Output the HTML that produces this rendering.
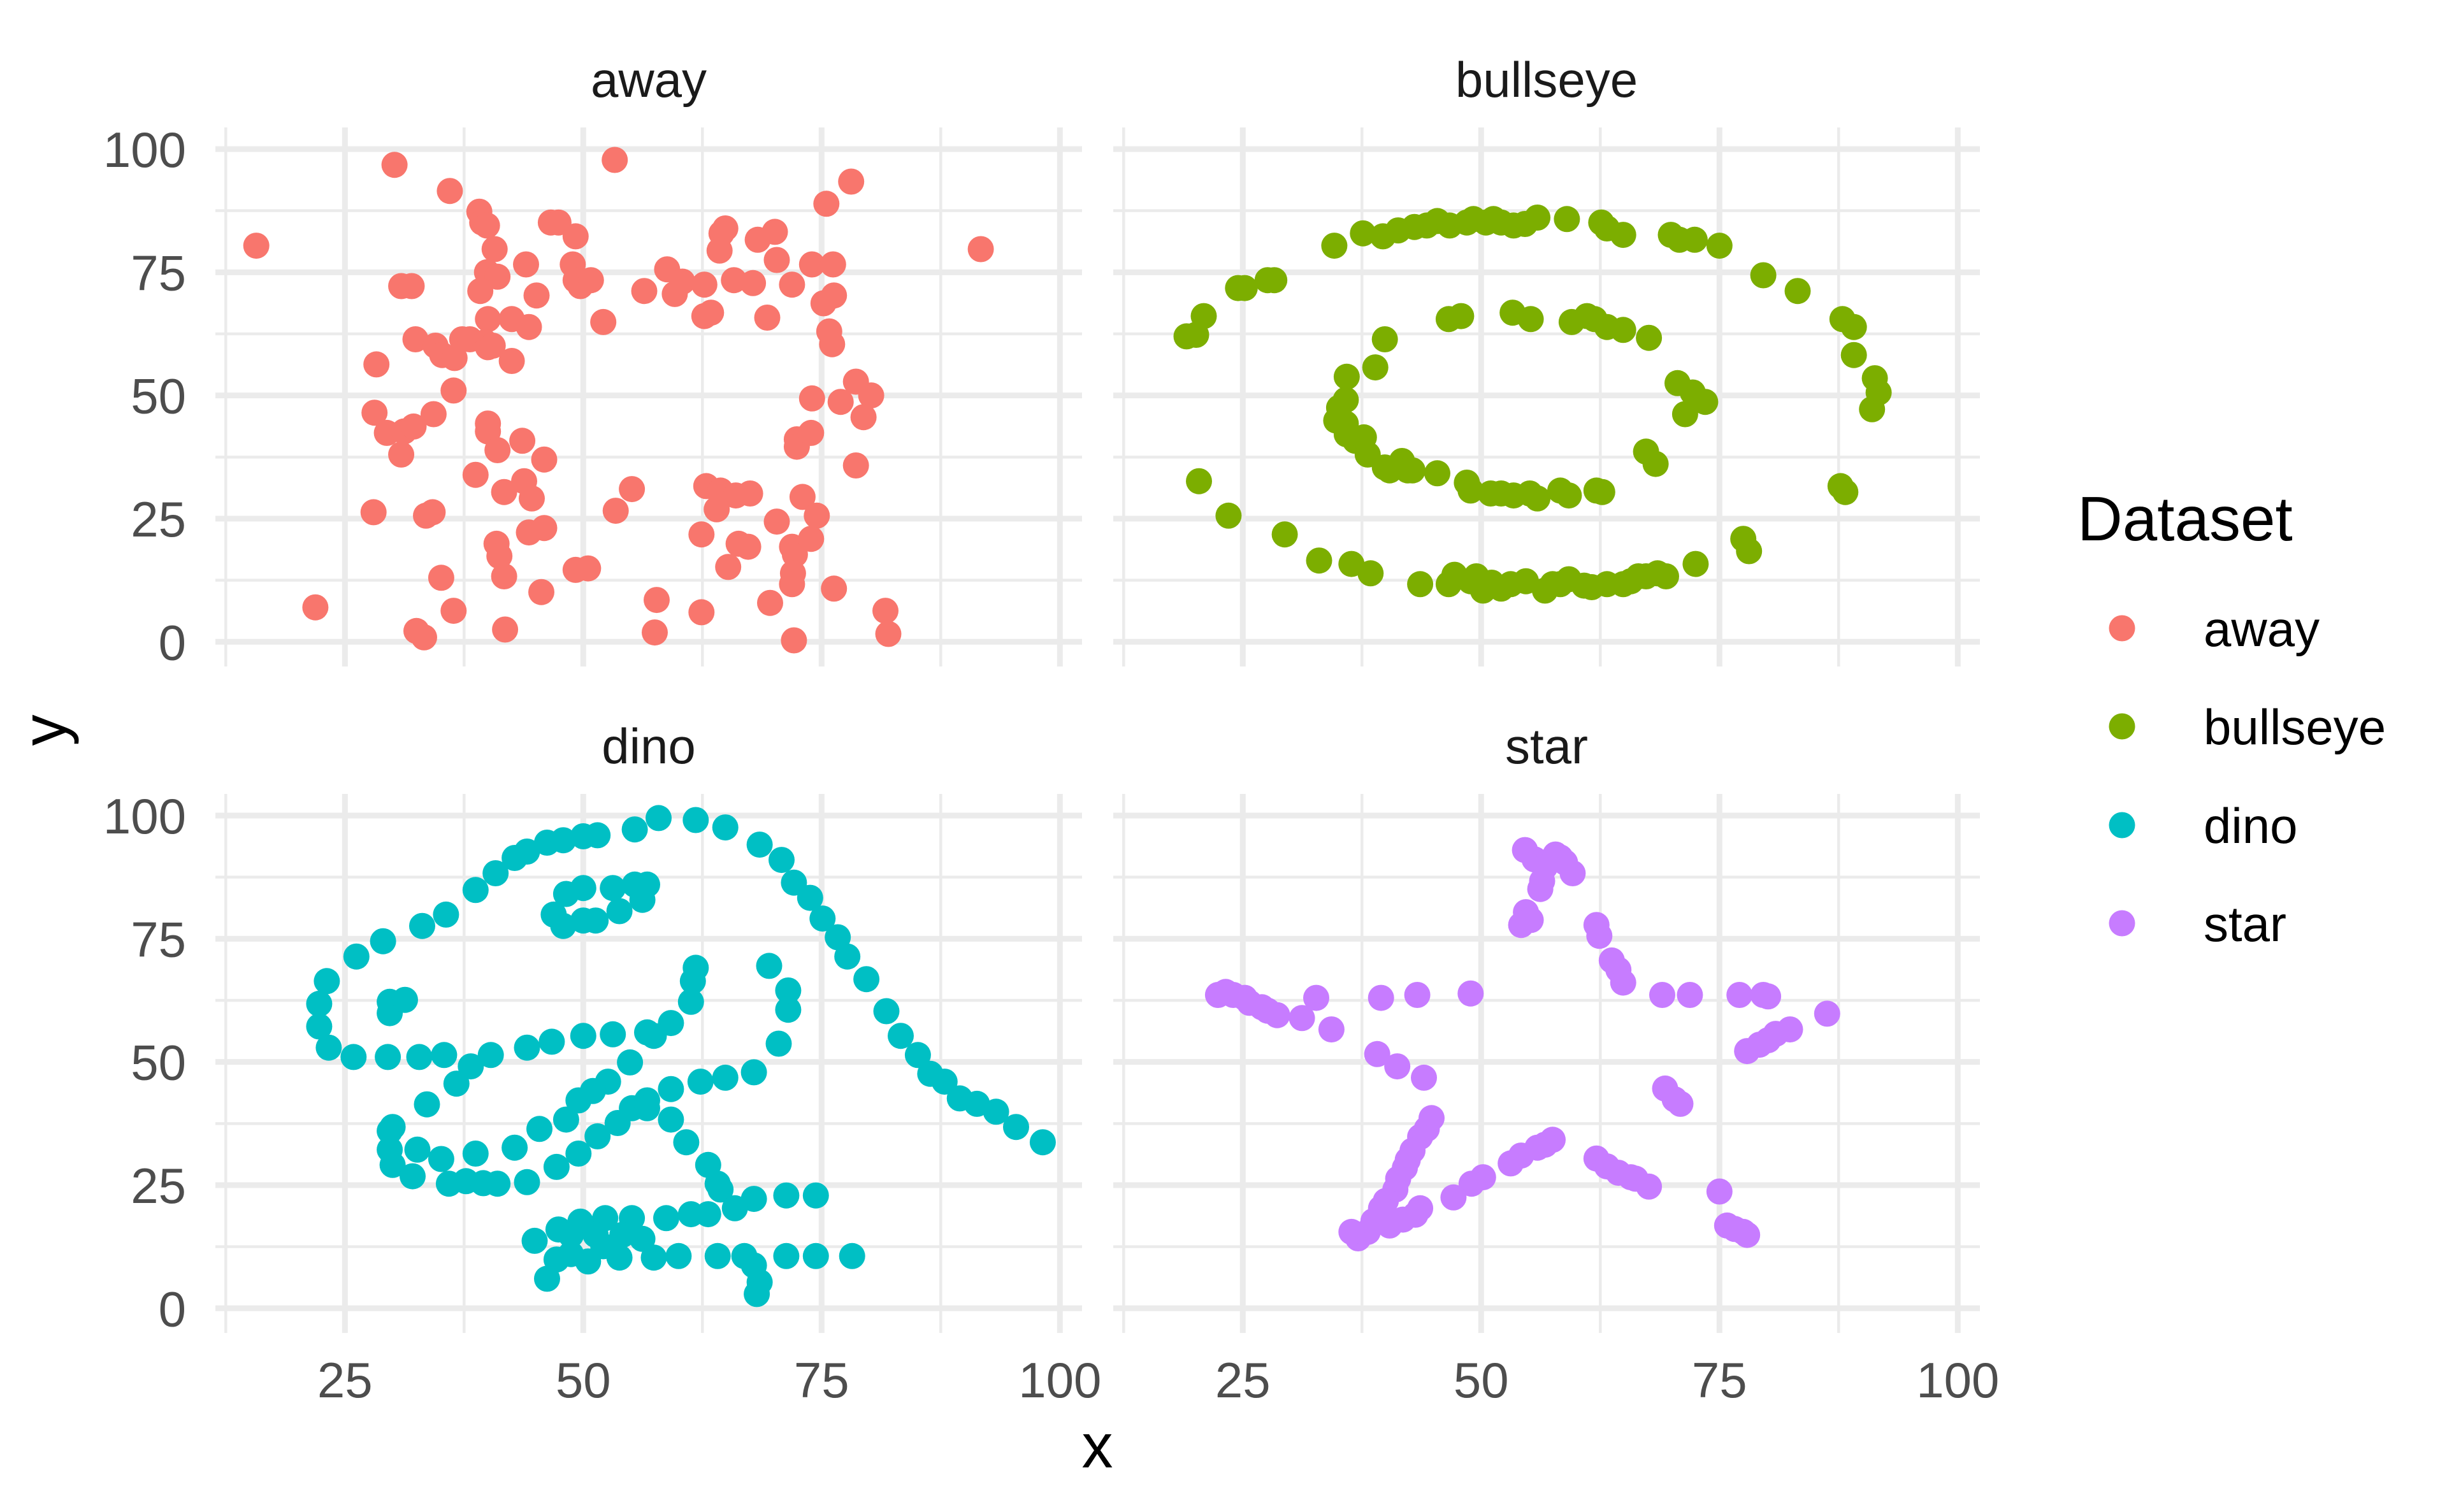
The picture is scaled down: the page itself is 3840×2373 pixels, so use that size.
<!DOCTYPE html>
<html><head><meta charset="utf-8"><style>
html,body{margin:0;padding:0;background:#fff}
svg{display:block}
text{font-family:"Liberation Sans",Arial,sans-serif}
</style></head><body>
<svg id="chart" width="3840" height="2373" viewBox="0 0 3840 2373" xmlns="http://www.w3.org/2000/svg">
<rect width="3840" height="2373" fill="#fff"/>
<g id="grid"></g>
<g id="points"></g>
<g id="labels"></g>
<text x="1722" y="2303" font-size="98" text-anchor="middle" fill="#000">x</text>
<text transform="translate(103,1146) rotate(-90)" font-size="98" text-anchor="middle" fill="#000">y</text>
<g>
<text x="3260" y="848" font-size="98" fill="#000">Dataset</text>
<circle cx="3330" cy="986" r="20.5" fill="#F8766D"/>
<text x="3458" y="1014" font-size="78" fill="#000">away</text>
<circle cx="3330" cy="1140" r="20.5" fill="#7CAE00"/>
<text x="3458" y="1168" font-size="78" fill="#000">bullseye</text>
<circle cx="3330" cy="1295" r="20.5" fill="#00BFC4"/>
<text x="3458" y="1323" font-size="78" fill="#000">dino</text>
<circle cx="3330" cy="1449" r="20.5" fill="#C77CFF"/>
<text x="3458" y="1477" font-size="78" fill="#000">star</text>
</g>
</svg>
<script>
const panelNames = ["away","bullseye","dino","star"];
const panelColors = ["#F8766D","#7CAE00","#00BFC4","#C77CFF"];
const majorTicks = [25,50,75,100];
const minorTicks = [12.5,37.5,62.5,87.5];
const xTickLabels = ["25","50","75","100"];
const yMajorTicks = [0,25,50,75,100];
const yTickLabels = ["0","25","50","75","100"];

const awayX = [15.7,30.2,53.3,78.1,91.7,36.0,39.1,39.4,39.9,46.6,47.4,49.2,40.7,75.5,64.9,64.5,70.1,68.3,64.3,70.3,74.0,76.2,44.0,48.9,39.9,41.0,58.8,30.9,32.0,39.2,45.1,49.2,49.7,50.8,56.4,59.6,60.4,62.7,65.8,67.8,71.9,76.3,69.3,75.2,52.1,62.7,63.4,42.5,40.0,44.3,75.8,76.1,32.4,34.5,35.2,36.5,37.3,38.1,39.7,40.0,40.5,42.5,28.3,36.4,78.6,74.0,80.2,77.0,79.4,28.1,34.3,29.4,31.2,32.2,40.0,40.0,72.4,72.4,73.9,30.9,41.0,43.6,45.9,78.6,38.7,43.8,41.7,44.6,55.1,62.9,64.4,66.0,67.5,73.0,64.0,28.0,33.5,34.2,53.4,70.3,74.5,44.3,45.9,62.4,40.9,41.2,66.3,67.3,65.2,71.9,72.2,73.9,41.7,35.1,49.2,50.5,72.0,71.9,76.3,45.6,57.7,69.6,36.4,21.9,62.4,81.7,32.5,33.3,41.8,57.5,72.1,82.0];
const awayY = [80.4,96.8,97.8,93.4,79.7,91.5,87.3,85.1,84.5,85.1,85.1,82.3,79.7,88.9,83.9,82.9,83.2,81.6,79.4,77.5,76.6,76.6,76.6,76.6,75.0,74.1,75.6,72.2,72.2,71.2,70.3,73.4,72.2,73.4,71.2,70.6,73.1,72.5,73.4,72.8,72.5,70.3,65.8,68.7,64.9,66.1,66.8,65.5,65.5,63.9,63.0,60.4,61.4,60.1,58.2,57.6,61.4,61.4,60.8,59.8,60.1,57.0,56.3,51.0,52.8,49.4,50.0,48.7,45.6,46.5,46.2,42.4,42.7,43.7,44.3,42.7,41.1,39.6,42.4,38.0,38.9,40.8,37.0,35.8,33.9,32.6,30.4,29.1,31.0,31.6,30.7,29.7,30.1,29.4,26.9,26.3,25.6,26.3,26.6,24.4,25.6,22.2,23.1,21.8,19.9,17.4,19.9,19.3,15.2,19.3,17.7,20.9,13.3,13.0,14.6,14.9,13.9,11.7,10.8,10.1,8.5,7.9,6.3,7.0,6.0,6.3,2.2,0.9,2.5,1.9,0.3,1.6];

const bullSX = [855,873,886,896,906,914,921,929,940,944,952,957,962,970,977,985,1004,1026,1030,1040,1071,1076,1086,1102,1130,1152,1181,1188,1188,1202,1204,1200,760,766,771,793,797,812,816,768,787,823,845,866,878,1180,1183,1117,1121,910,928,932,942,946,950,956,962,968,978,990,995,1000,1005,1015,1020,1030,1040,1045,1050,1055,1062,1068,1087,928,936,969,981,1007,1017,1022,1030,1040,1057,887,881,863,862,858,856,862,863,868,874,876,887,890,898,902,905,921,1075,1085,1093,1080,1055,1061,940,942,955,962,970,980,985,1000,1005,1023,1027];
const bullSY = [158,150,152,148,146,145,142,145,143,141,143,141,143,145,144,140,141,143,147,151,151,154,154,158,177,187,205,210,228,243,252,263,216,215,203,185,185,180,180,309,331,343,360,362,368,312,316,346,354,375,375,369,373,370,379,374,378,375,373,379,375,375,372,376,377,375,375,373,370,370,368,370,362,205,203,201,205,207,203,205,210,212,217,218,236,242,257,262,270,272,279,283,281,292,300,302,296,302,302,304,246,252,258,266,290,298,310,315,317,317,318,317,320,315,318,315,316];
const bullseyeX = bullSX.map(v => +(25 + (v - 796) / 6.12).toFixed(1));
const bullseyeY = bullSY.map(v => +((412 - v) / 3.16).toFixed(1));

const dinoX = [55.4,51.5,46.2,42.8,40.8,38.7,35.6,33.1,29.0,26.2,23.1,22.3,22.3,23.3,25.9,29.5,32.8,35.4,40.3,44.1,46.7,50.0,53.1,56.7,59.2,61.3,61.5,61.8,57.4,54.9,52.6,48.2,49.5,51.0,45.4,42.8,38.7,35.1,32.6,30.0,33.6,36.7,38.2,29.7,29.7,30.0,32.1,35.9,41.0,44.1,47.2,49.5,51.5,53.6,55.1,56.7,59.2,62.3,64.9,67.9,70.5,71.5,71.5,69.5,46.9,48.2,50.0,53.1,55.4,56.7,56.2,53.8,51.3,50.0,47.9,29.7,29.7,31.3,57.9,61.8,64.9,68.5,70.8,72.1,73.8,75.1,76.7,77.7,79.7,81.8,83.3,85.1,86.4,87.9,89.5,93.3,95.4,98.2,56.7,59.2,60.8,63.1,64.1,64.4,74.4,71.3,67.9,65.9,63.1,61.3,58.7,55.1,52.3,49.7,47.4,44.9,48.7,51.3,54.1,56.2,52.1,48.7,47.2,46.2,50.5,53.8,57.4,60.0,64.1,66.9,71.3,74.4,78.2,67.9,68.5,68.2,37.7,39.5,91.3,50.0,47.9,44.1];
const dinoY = [97.2,96.0,94.5,91.4,88.3,84.9,79.9,77.6,74.5,71.4,66.4,61.8,57.2,52.9,51.0,51.0,51.0,51.4,51.4,52.9,54.1,55.3,55.6,56.0,57.9,62.2,66.4,69.1,55.3,49.9,46.0,38.3,42.2,44.1,36.4,32.6,31.4,30.3,32.2,36.8,41.4,45.6,49.1,36.0,32.2,29.1,26.8,25.3,25.3,25.6,28.7,31.4,34.9,37.6,40.6,42.2,44.5,46.0,46.8,47.9,53.7,60.6,64.5,69.5,79.9,84.1,85.3,85.3,86.0,86.0,82.9,80.6,78.7,78.7,77.6,59.9,62.2,62.6,99.5,99.1,97.6,94.1,91.0,86.4,83.3,79.1,75.3,71.4,66.8,60.3,55.3,51.4,47.6,46.0,42.6,39.9,36.8,33.7,40.6,38.3,33.7,29.1,25.3,24.1,22.9,22.9,22.2,20.3,19.1,19.1,18.3,18.3,18.3,17.6,16.0,13.7,14.9,14.9,14.9,14.1,12.6,11.0,9.9,6.0,9.5,10.3,10.3,10.6,10.6,10.6,10.6,10.6,10.6,8.7,5.3,2.9,25.8,25.4,41.5,95.8,95.0,92.7];

const starSX = [977,983,990,997,1000,1003,1008,988,987,978,981,975,780,785,790,797,800,808,812,818,834,843,853,885,908,942,1023,1025,1033,1037,1040,1065,1083,1115,1130,1133,1171,1147,1138,1133,1128,1120,1067,1073,1077,1102,1107,1112,1117,1120,1023,1030,1037,1045,1048,1057,995,990,985,975,968,950,943,931,882,895,912,917,914,910,905,902,900,896,894,888,885,880,876,870,866,910,907,899,890];
const starSY = [545,551,556,548,550,553,560,565,570,585,590,593,638,636,638,640,643,646,648,651,653,640,660,640,638,637,593,600,616,622,630,638,638,638,638,639,650,660,663,667,670,674,698,705,708,764,786,788,790,792,743,748,752,755,756,761,731,734,736,741,746,755,759,768,676,684,691,717,724,729,738,744,749,756,763,770,775,783,790,794,790,775,779,782,786];
const starX = starSX.map(v => +(25 + (v - 796) / 6.12).toFixed(1));
const starY = starSY.map(v => +((839 - v) / 3.16).toFixed(1));

const seriesX = [awayX, bullseyeX, dinoX, starX];
const seriesY = [awayY, bullseyeY, dinoY, starY];

const NS = "http://www.w3.org/2000/svg";
const PX = [338, 1747], PW = 1360;
const PY = [200, 1246], PH = 846;
const Y0 = [1007.3, 2053.3];
function xScale(col, v) { return 541.3 + (v - 25) * 14.96 + (col === 1 ? 1409 : 0); }
function yScale(row, v) { return Y0[row] - v * 7.733; }
function mk(tag, attrs, parent) {
  const el = document.createElementNS(NS, tag);
  for (const k in attrs) el.setAttribute(k, attrs[k]);
  parent.appendChild(el);
  return el;
}
const grid = document.getElementById("grid");
const pts = document.getElementById("points");
const lab = document.getElementById("labels");

for (let p = 0; p < 4; p++) {
  const col = p % 2, row = Math.floor(p / 2);
  const x0 = PX[col], y0 = PY[row];
  minorTicks.forEach(t => {
    const h = mk("line", {x1: x0, x2: x0 + PW, y1: yScale(row, t), y2: yScale(row, t), stroke: "#EBEBEB", "stroke-width": 4.5}, grid);
    
    
    const v = mk("line", {x1: xScale(col, t), x2: xScale(col, t), y1: y0, y2: y0 + PH, stroke: "#EBEBEB", "stroke-width": 4.5}, grid);
    
    
  });
  yMajorTicks.forEach(t => {
    const h = mk("line", {x1: x0, x2: x0 + PW, y1: yScale(row, t), y2: yScale(row, t), stroke: "#EBEBEB", "stroke-width": 9}, grid);
    
    
  });
  majorTicks.forEach(t => {
    const v = mk("line", {x1: xScale(col, t), x2: xScale(col, t), y1: y0, y2: y0 + PH, stroke: "#EBEBEB", "stroke-width": 9}, grid);
    
    
  });
  const st = mk("text", {x: x0 + PW / 2, y: row === 0 ? 152 : 1198, "font-size": 78, "text-anchor": "middle", fill: "#1A1A1A"}, lab);
  st.textContent = panelNames[p];
  
  
  const xs = seriesX[p], ys = seriesY[p];
  for (let i = 0; i < xs.length; i++) {
    const c = mk("circle", {cx: xScale(col, xs[i]).toFixed(1), cy: yScale(row, ys[i]).toFixed(1), r: 20.5, fill: panelColors[p]}, pts);
    
    
  }
}
for (let row = 0; row < 2; row++) {
  yMajorTicks.forEach((t, i) => {
    const tx = mk("text", {x: 292, y: yScale(row, t) + 28, "font-size": 78, "text-anchor": "end", fill: "#4D4D4D"}, lab);
    tx.textContent = yTickLabels[i];
    
    
  });
}
for (let col = 0; col < 2; col++) {
  majorTicks.forEach((t, i) => {
    const tx = mk("text", {x: xScale(col, t), y: 2193, "font-size": 78, "text-anchor": "middle", fill: "#4D4D4D"}, lab);
    tx.textContent = xTickLabels[i];
    
    
  });
}
</script>
</body></html>
